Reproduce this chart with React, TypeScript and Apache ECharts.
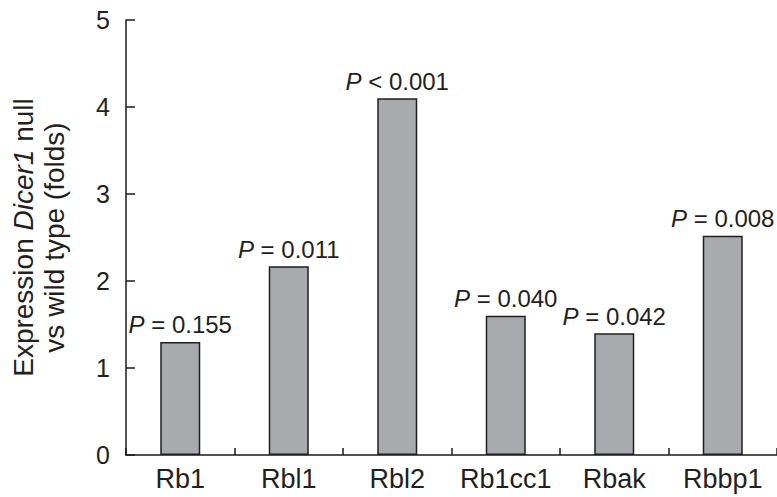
import React, { useEffect, useRef } from "react";
import * as echarts from "echarts";

const categories = ["Rb1", "Rbl1", "Rbl2", "Rb1cc1", "Rbak", "Rbbp1"];
const values = [1.3, 2.17, 4.1, 1.6, 1.4, 2.52];
const pOperators = ["=", "=", "<", "=", "=", "="];
const pValues = ["0.155", "0.011", "0.001", "0.040", "0.042", "0.008"];
const yMin = 0;
const yMax = 5;
const yStep = 1;

const FONT = "'Liberation Sans', Arial, Helvetica, sans-serif";
const TEXT = "#231f20";

export default function App() {
  const ref = useRef<HTMLDivElement>(null);
  useEffect(() => {
    if (!ref.current) return;
    const chart = echarts.init(ref.current, null, { renderer: "svg" });
    chart.setOption({
      animation: false,
      backgroundColor: "#ffffff",
      grid: { left: 125, right: -1, top: 20, bottom: 42, containLabel: false },
      xAxis: {
        type: "category",
        data: categories,
        boundaryGap: true,
        axisLine: { show: true, lineStyle: { color: "#1a1a1a", width: 1.5 } },
        axisTick: { show: true, inside: true, length: 7, lineStyle: { color: "#1a1a1a", width: 1.5 } },
        axisLabel: { fontSize: 27, fontFamily: FONT, color: TEXT, margin: 10, interval: 0 },
      },
      yAxis: {
        type: "value",
        min: yMin,
        max: yMax,
        interval: yStep,
        splitLine: { show: false },
        axisLine: { show: true, lineStyle: { color: "#1a1a1a", width: 1.5 } },
        axisTick: { show: true, inside: true, length: 9, lineStyle: { color: "#1a1a1a", width: 1.5 } },
        axisLabel: { fontSize: 25, fontFamily: FONT, color: TEXT, margin: 16 },
        name: "Expression {i|Dicer1} null\nvs wild type (folds)",
        nameLocation: "middle",
        nameRotate: 90,
        nameGap: 56,
        nameTextStyle: {
          fontSize: 28,
          fontFamily: FONT,
          color: TEXT,
          lineHeight: 31,
          align: "center",
          rich: {
            i: { fontSize: 28, fontFamily: FONT, color: TEXT, fontStyle: "italic", lineHeight: 31 },
          },
        },
      },
      series: [
        {
          type: "bar",
          data: values,
          barWidth: 40,
          itemStyle: { color: "#a9aaad", borderColor: "#1f1f1f", borderWidth: 1.5 },
          label: {
            show: true,
            position: "top",
            distance: 5,
            fontSize: 24,
            fontFamily: FONT,
            color: TEXT,
            formatter: (p: any) => `{i|P} ${pOperators[p.dataIndex]} ${pValues[p.dataIndex]}`,
            rich: {
              i: { fontSize: 24, fontFamily: FONT, color: TEXT, fontStyle: "italic" },
            },
          },
        },
      ],
    });
    return () => chart.dispose();
  }, []);
  return (
    <div
      ref={ref}
      style={{ position: "fixed", left: 0, top: 0, width: 777, height: 497, background: "#fff" }}
    />
  );
}
